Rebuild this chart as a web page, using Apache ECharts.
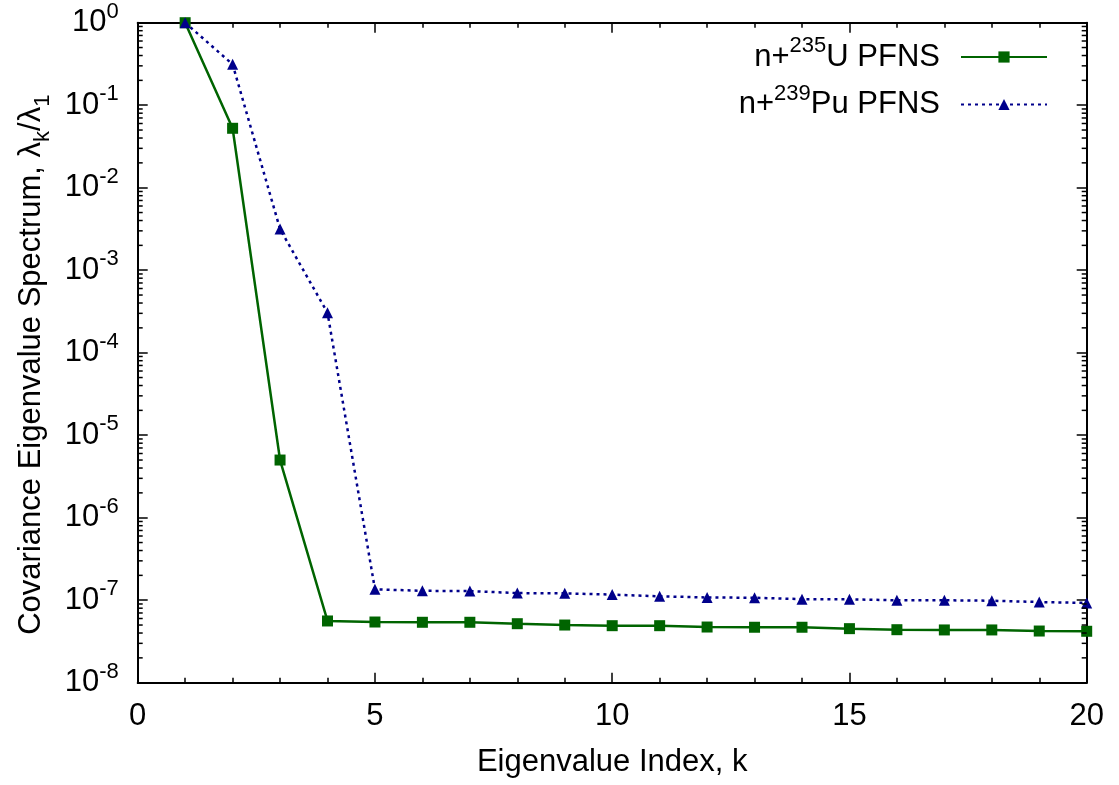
<!DOCTYPE html>
<html>
<head>
<meta charset="utf-8">
<script src="https://cdn.jsdelivr.net/npm/echarts@6/dist/echarts.min.js"></script>
<style>
html,body{margin:0;padding:0;background:#fff;}
#chart{width:1119px;height:785px;}
</style>
</head>
<body>
<div id="chart"></div>
<script>
// ---- data ----
var kIndex = [1,2,3,4,5,6,7,8,9,10,11,12,13,14,15,16,17,18,19,20];
var u235 = [1.0, 0.0525, 5.0e-6, 5.6e-8, 5.44e-8, 5.4e-8, 5.4e-8, 5.19e-8, 5.0e-8, 4.91e-8,
            4.91e-8, 4.73e-8, 4.7e-8, 4.7e-8, 4.52e-8, 4.39e-8, 4.36e-8, 4.36e-8, 4.23e-8, 4.2e-8];
var pu239 = [1.0, 0.313, 3.15e-3, 3.05e-4, 1.355e-7, 1.30e-7, 1.29e-7, 1.22e-7, 1.21e-7, 1.17e-7,
             1.115e-7, 1.08e-7, 1.07e-7, 1.03e-7, 1.025e-7, 9.98e-8, 9.98e-8, 9.86e-8, 9.5e-8, 9.26e-8];
var seriesNames = ['n+{s|235}U PFNS', 'n+{s|239}Pu PFNS'];
var xRange = [0, 20];
var yDecades = [-8, -7, -6, -5, -4, -3, -2, -1, 0];
var minorMultipliers = [2, 3, 4, 5, 6, 7, 8, 9];

// ---- derived ----
function pairs(xs, ys){ return xs.map(function(x, i){ return [x, ys[i]]; }); }
var minorVals = [];
yDecades.slice(0, -1).forEach(function(d){
  minorMultipliers.forEach(function(m){ minorVals.push(m * Math.pow(10, d)); });
});

var FONT = 'Liberation Sans, Arial, sans-serif';
var FS = 31;
var SUP = 22;
var supRich = {
  b: {fontSize: FS, lineHeight: 44, fontFamily: FONT, color: '#000'},
  s: {fontSize: SUP, lineHeight: SUP, verticalAlign: 'top', fontFamily: FONT, color: '#000'}
};

var chart = echarts.init(document.getElementById('chart'));
var tickStyle = {color: '#000', width: 1.5};
var option = {
  animation: false,
  grid: {left: 137.7, right: 32.3, top: 22.7, bottom: 102.3},
  legend: {
    data: [seriesNames[0], seriesNames[1]],
    orient: 'vertical',
    align: 'right',
    right: 71,
    top: 35,
    padding: 0,
    itemWidth: 86,
    itemHeight: 14,
    itemGap: 10,
    textStyle: {
      fontSize: FS, fontFamily: FONT, color: '#000',
      padding: [0, 16, 0, 0],
      rich: supRich
    },
    formatter: function(name){ return '{b|' + name.replace(/\{s\|(\d+)\}/, '}{s|$1}{b|') + '}'; }
  },
  xAxis: [{
    type: 'value', min: xRange[0], max: xRange[1], interval: 5,
    name: 'Eigenvalue Index, k', nameLocation: 'middle', nameGap: 64,
    nameTextStyle: {fontSize: FS, fontFamily: FONT, color: '#000'},
    axisLine: {show: true, onZero: false, lineStyle: {color: '#000', width: 2}},
    axisTick: {show: true, inside: true, length: 10, lineStyle: tickStyle},
    minorTick: {show: true, splitNumber: 5, length: 5, lineStyle: tickStyle},
    axisLabel: {fontSize: FS, fontFamily: FONT, color: '#000', margin: 18},
    splitLine: {show: false}
  }, {
    type: 'value', min: xRange[0], max: xRange[1], interval: 5, position: 'top',
    axisLine: {show: true, onZero: false, lineStyle: {color: '#000', width: 2}},
    axisTick: {show: true, inside: true, length: 10, lineStyle: tickStyle},
    minorTick: {show: true, splitNumber: 5, length: 5, lineStyle: tickStyle},
    axisLabel: {show: false},
    splitLine: {show: false}
  }],
  yAxis: [{
    type: 'log', logBase: 10, min: 1e-8, max: 1, interval: 1,
    name: '{t|Covariance Eigenvalue Spectrum, λ}{u|k}{t|/λ}{u|1}',
    nameLocation: 'middle', nameRotate: 90, nameGap: 84,
    nameTextStyle: {
      fontSize: FS, fontFamily: FONT, color: '#000',
      padding: [0, 24, 0, 0],
      rich: {
        t: {fontSize: FS, lineHeight: 44, fontFamily: FONT, color: '#000'},
        u: {fontSize: SUP, lineHeight: SUP, verticalAlign: 'bottom', fontFamily: FONT, color: '#000'}
      }
    },
    axisLine: {show: true, onZero: false, lineStyle: {color: '#000', width: 2}},
    axisTick: {show: true, inside: true, length: 10, lineStyle: tickStyle},
    axisLabel: {
      margin: 19, fontSize: FS, fontFamily: FONT, color: '#000',
      formatter: function(v){
        var e = Math.round(Math.log(v) / Math.LN10);
        return '{b|10}{s|' + e + '}';
      },
      rich: supRich
    },
    splitLine: {show: false}
  }, {
    type: 'log', logBase: 10, min: 1e-8, max: 1, interval: 1, position: 'right',
    axisLine: {show: true, onZero: false, lineStyle: {color: '#000', width: 2}},
    axisTick: {show: true, inside: true, length: 10, lineStyle: tickStyle},
    axisLabel: {show: false},
    splitLine: {show: false}
  }],
  series: [{
    name: seriesNames[0],
    type: 'line',
    data: pairs(kIndex, u235),
    symbol: 'rect', symbolSize: 11,
    lineStyle: {color: '#006400', width: 2.5},
    itemStyle: {color: '#006400'}
  }, {
    name: seriesNames[1],
    type: 'line',
    data: pairs(kIndex, pu239),
    symbol: 'triangle', symbolSize: 11,
    lineStyle: {color: '#00008b', width: 2.5, type: [3, 4]},
    itemStyle: {color: '#00008b'}
  }]
};
chart.setOption(option);

// minor log ticks on left/right borders, positioned through the axis scale
try {
  var xl = chart.convertToPixel({xAxisIndex: 0}, xRange[0]);
  var xr = chart.convertToPixel({xAxisIndex: 0}, xRange[1]);
  var elems = [];
  minorVals.forEach(function(v){
    var y = chart.convertToPixel({yAxisIndex: 0}, v);
    elems.push({type: 'line', silent: true, z: 50, shape: {x1: xl, y1: y, x2: xl + 5, y2: y}, style: {stroke: '#000', lineWidth: 1.5}});
    elems.push({type: 'line', silent: true, z: 50, shape: {x1: xr, y1: y, x2: xr - 5, y2: y}, style: {stroke: '#000', lineWidth: 1.5}});
  });
  chart.setOption({graphic: {elements: elems}});
} catch (e) {}
</script>
</body>
</html>
